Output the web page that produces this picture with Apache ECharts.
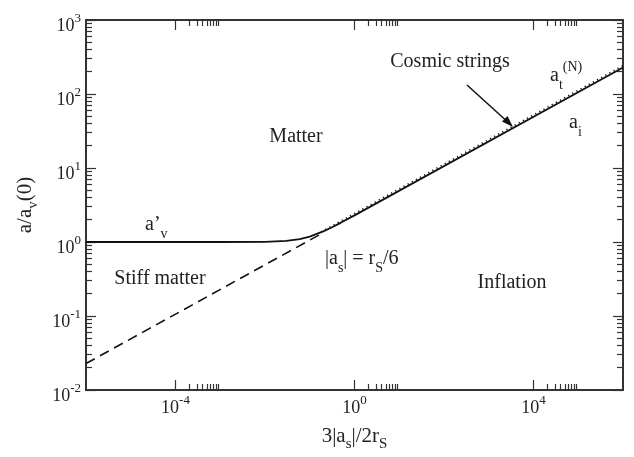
<!DOCTYPE html>
<html>
<head>
<meta charset="utf-8">
<script src="https://cdn.jsdelivr.net/npm/echarts@6/dist/echarts.min.js"></script>
<style>
html,body{margin:0;padding:0;background:#fff;}
#c{width:634px;height:457px;}
</style>
</head>
<body>
<div id="c"></div>
<script>
// ---- data ----
const xMajorTicks = [1e-4, 1, 1e4];
const xMinorTicks = [2e-4,3e-4,4e-4,5e-4,6e-4,7e-4,8e-4,9e-4, 2,3,4,5,6,7,8,9, 2e4,3e4,4e4,5e4,6e4,7e4,8e4,9e4];
const yMajorTicks = [1e-2, 1e-1, 1, 10, 100, 1000];
const yMinorMult = [2,3,4,5,6,7,8,9];
const yMinorDecades = [1e-2, 1e-1, 1, 10, 100];

// a_i (inflation, dashed part)
const inflX = [1e-6, 0.16];
const inflY = [0.0228, 1.24];
// a'_v (solid)
const avX = [1e-6, 1e-3, 1e-2, 0.03, 0.06, 0.1, 0.2, 0.3, 0.5, 1, 1e6];
const avY = [1, 1, 1.005, 1.033, 1.094, 1.18, 1.39, 1.56, 1.83, 2.29, 228];
// a_t^(N) (dotted)
const atX = [0.18, 1e6];
const atY = [1.37, 242];

const yMinorTicks = [];
yMinorDecades.forEach(d => yMinorMult.forEach(m => yMinorTicks.push(+(m * d).toPrecision(3))));

const pair = (xs, ys) => xs.map((x, i) => [x, ys[i]]);

const FONT = '"Liberation Serif","Times New Roman",serif';
const INK = '#222';
const FRAME = '#333';

function expFmt(v) {
  const e = Math.round(Math.log10(v));
  return '{b|10}{sup|' + e + '}';
}
const labelRich = {
  b: {fontSize: 18, fontFamily: FONT, color: INK, lineHeight: 28, verticalAlign: 'middle'},
  sup: {fontSize: 13, fontFamily: FONT, color: INK, lineHeight: 12, verticalAlign: 'top'}
};

function mkAxis(kind, pos, ticks, len, opts) {
  const base = {
    type: 'log', logBase: 10,
    min: kind === 'x' ? 1e-6 : 1e-2,
    max: kind === 'x' ? 1e6 : 1e3,
    position: pos,
    gridIndex: 0,
    splitLine: {show: false},
    minorTick: {show: false},
    axisLine: {show: true, onZero: false, lineStyle: {color: FRAME, width: 2}},
    axisTick: {show: true, inside: true, length: len, customValues: ticks, lineStyle: {color: FRAME, width: 1.2}},
    axisLabel: {show: false}
  };
  return Object.assign(base, opts || {});
}

const xAxes = [
  mkAxis('x', 'bottom', xMajorTicks, 10, {
    axisLabel: {show: true, customValues: xMajorTicks, margin: 4, formatter: expFmt, rich: labelRich},
    name: '{n|3|a}{s|s}{n||/2r}{s|S}',
    nameLocation: 'middle', nameGap: 30,
    nameTextStyle: {rich: {
      n: {fontSize: 21, fontFamily: FONT, color: INK, lineHeight: 32, verticalAlign: 'middle'},
      s: {fontSize: 15, fontFamily: FONT, color: INK, lineHeight: 15, verticalAlign: 'bottom'}
    }}
  }),
  mkAxis('x', 'bottom', xMinorTicks, 6),
  mkAxis('x', 'top', xMajorTicks, 10),
  mkAxis('x', 'top', xMinorTicks, 6)
];
const yAxes = [
  mkAxis('y', 'left', yMajorTicks, 10, {
    axisLabel: {show: true, customValues: yMajorTicks, margin: 5, formatter: expFmt, rich: labelRich,
      padding: [12, 0, 0, 0]},
    name: '{n|a/a}{s|v}{n|(0)}',
    nameLocation: 'middle', nameGap: 45,
    nameTextStyle: {rich: {
      n: {fontSize: 21, fontFamily: FONT, color: INK, lineHeight: 32, verticalAlign: 'middle'},
      s: {fontSize: 15, fontFamily: FONT, color: INK, lineHeight: 15, verticalAlign: 'bottom'}
    }}
  }),
  mkAxis('y', 'left', yMinorTicks, 6),
  mkAxis('y', 'right', yMajorTicks, 10),
  mkAxis('y', 'right', yMinorTicks, 6)
];

const annRich = {
  n: {fontSize: 20, fontFamily: FONT, fill: INK, lineHeight: 32, verticalAlign: 'middle'},
  s: {fontSize: 14, fontFamily: FONT, fill: INK, lineHeight: 14, verticalAlign: 'bottom'},
  p: {fontSize: 14, fontFamily: FONT, fill: INK, lineHeight: 14, verticalAlign: 'top'}
};
function txt(x, y, text, align) {
  return {type: 'text', z: 100, style: {x: x, y: y, text: text, rich: annRich,
    textAlign: align || 'center', textVerticalAlign: 'middle'}};
}

const chart = echarts.init(document.getElementById('c'), null, {renderer: 'canvas'});
chart.setOption({
  animation: false,
  backgroundColor: '#fff',
  grid: {left: 86, right: 11, top: 20, bottom: 60, containLabel: false},
  xAxis: xAxes,
  yAxis: yAxes,
  series: [
    {type: 'line', xAxisIndex: 0, yAxisIndex: 0, data: pair(inflX, inflY), showSymbol: false, symbol: 'none',
      lineStyle: {color: '#111', width: 1.6, type: [10, 6]}},
    {type: 'line', xAxisIndex: 0, yAxisIndex: 0, data: pair(atX, atY), showSymbol: false, symbol: 'none',
      lineStyle: {color: '#111', width: 1.6, type: [1.2, 3.5]}},
    {type: 'line', xAxisIndex: 0, yAxisIndex: 0, data: pair(avX, avY), showSymbol: false, symbol: 'none',
      lineStyle: {color: '#111', width: 1.8}}
  ],
  graphic: [
    txt(296, 137, '{n|Matter}'),
    txt(160, 279, '{n|Stiff matter}'),
    txt(512, 283, '{n|Inflation}'),
    txt(450, 62, '{n|Cosmic strings}'),
    txt(145, 225, '{n|a’}{s|v}', 'left'),
    txt(325, 259, '{n||a}{s|s}{n|| = r}{s|S}{n|/6}', 'left'),
    txt(550, 76, '{n|a}{s|t}{p|(N)}', 'left'),
    txt(569, 123, '{n|a}{s|i}', 'left'),
    {type: 'line', z: 100, shape: {x1: 467, y1: 85, x2: 510, y2: 124}, style: {stroke: '#111', lineWidth: 1.5}},
    {type: 'polygon', z: 100, shape: {points: [[513, 127], [502, 121.5], [507.5, 116]]}, style: {fill: '#111'}}
  ]
});
</script>
</body>
</html>
